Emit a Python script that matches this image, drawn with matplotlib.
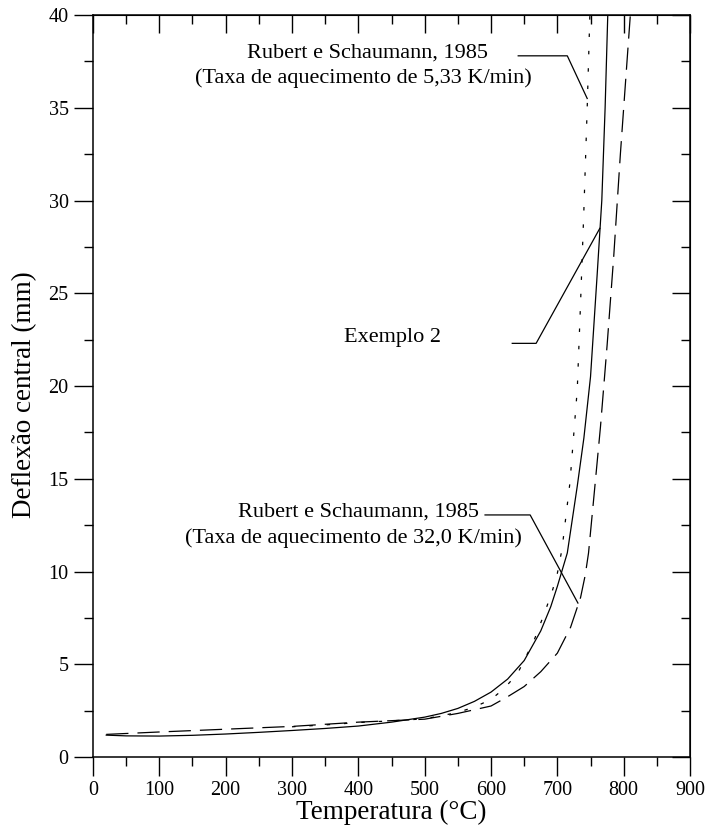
import matplotlib
matplotlib.use("Agg")
import matplotlib.pyplot as plt
from matplotlib.ticker import MultipleLocator

plt.rcParams['font.family'] = ['Liberation Serif', 'DejaVu Serif']
plt.rcParams['lines.scale_dashes'] = False

# Exemplo 2 (solid)
t_ex2 = [20, 50, 100, 150, 200, 250, 300, 350, 400, 450, 500, 525, 550, 575, 600,
         625, 650, 675, 690, 700, 715, 730, 740, 750, 760, 767, 772, 776]
d_ex2 = [1.18, 1.14, 1.13, 1.17, 1.24, 1.33, 1.43, 1.54, 1.67, 1.88, 2.15, 2.35,
         2.62, 3.0, 3.5, 4.2, 5.2, 6.8, 8.1, 9.2, 11.0, 14.6, 17.2, 20.5, 26.0,
         30.0, 35.0, 40.0]

# Rubert e Schaumann 1985, 32,0 K/min (dashed)
t_r32 = [20, 100, 200, 300, 400, 450, 500, 550, 600, 625, 650, 675, 700, 720, 735,
         742, 747, 755, 765, 775, 785, 795, 803, 810]
d_r32 = [1.22, 1.35, 1.5, 1.65, 1.88, 1.96, 2.04, 2.35, 2.75, 3.25, 3.8, 4.6, 5.6,
         7.0, 8.6, 9.8, 11.0, 14.0, 17.8, 22.2, 27.0, 32.5, 36.5, 40.0]

# Rubert e Schaumann 1985, 5,33 K/min (dotted)
t_r533 = [300, 350, 400, 450, 500, 550, 575, 600, 620, 640, 665, 680, 692, 700, 707,
          719, 730, 735, 740, 745, 749]
d_r533 = [1.63, 1.73, 1.86, 1.95, 2.06, 2.4, 2.7, 3.1, 3.7, 4.5, 6.3, 7.7, 8.9, 9.9,
          11.2, 14.8, 19.8, 24.5, 29.5, 35.0, 40.0]

fig = plt.figure(figsize=(7.07, 8.34), dpi=100)
ax = fig.add_axes([0.1315, 0.0923, 0.8445, 0.8897])

lw = 0.9
ax.plot(t_ex2, d_ex2, color='black', lw=lw, ls='-')
ax.plot(t_r32, d_r32, color='black', lw=lw, ls=(0, (16, 6.5)))
ax.plot(t_r533, d_r533, color='black', lw=lw, ls=(0, (2.5, 10)))

ax.set_xlim(0, 900)
ax.set_ylim(0, 40)
ax.xaxis.set_major_locator(MultipleLocator(100))
ax.xaxis.set_minor_locator(MultipleLocator(50))
ax.yaxis.set_major_locator(MultipleLocator(5))
ax.yaxis.set_minor_locator(MultipleLocator(2.5))

for s in ax.spines.values():
    s.set_linewidth(1.1)

ax.tick_params(axis='both', which='major', direction='out', length=13.5, width=1.0,
               labelsize=14.5, pad=4)
ax.tick_params(axis='both', which='minor', direction='out', length=6.5, width=1.0)

# top and right inward ticks via secondary axes
axt = ax.secondary_xaxis('top')
axt.xaxis.set_major_locator(MultipleLocator(100))
axt.xaxis.set_minor_locator(MultipleLocator(50))
axt.tick_params(which='major', direction='in', length=13, width=1.0, labeltop=False)
axt.tick_params(which='minor', direction='in', length=6.5, width=1.0)
axr = ax.secondary_yaxis('right')
axr.yaxis.set_major_locator(MultipleLocator(5))
axr.yaxis.set_minor_locator(MultipleLocator(2.5))
axr.tick_params(which='major', direction='in', length=13, width=1.0, labelright=False)
axr.tick_params(which='minor', direction='in', length=6.5, width=1.0)

ax.set_xlabel('Temperatura (°C)', fontsize=19.5, labelpad=0)
ax.set_ylabel('Deflexão central (mm)', fontsize=19.5)
ax.yaxis.set_label_coords(-0.094, 0.489)

fs = 16
# Annotation 1
ax.text(414, 37.95, 'Rubert e Schaumann, 1985', ha='center', va='center', fontsize=fs)
ax.text(408, 36.6, '(Taxa de aquecimento de 5,33 K/min)', ha='center', va='center', fontsize=fs)
ax.plot([641, 715, 745], [37.8, 37.8, 35.5], color='black', lw=0.9)

# Annotation 2
ax.text(452, 22.6, 'Exemplo 2', ha='center', va='center', fontsize=fs)
ax.plot([632, 668, 764], [22.3, 22.3, 28.5], color='black', lw=0.9)

# Annotation 3
ax.text(400, 13.2, 'Rubert e Schaumann, 1985', ha='center', va='center', fontsize=fs)
ax.text(392, 11.8, '(Taxa de aquecimento de 32,0 K/min)', ha='center', va='center', fontsize=fs)
ax.plot([591, 659, 731], [13.05, 13.05, 8.3], color='black', lw=0.9)

fig.savefig('out.png', dpi=100)
